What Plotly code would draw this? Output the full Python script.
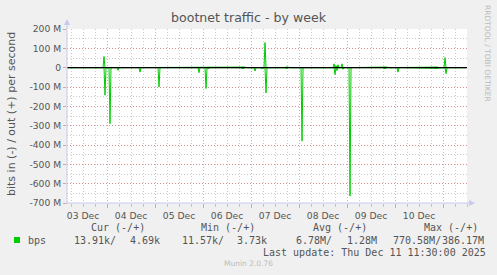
import plotly.graph_objects as go
import pandas as pd

# ---------------- data ----------------
range_start = "2025-12-03 04:00"
range_end = "2025-12-11 11:59"

# out (+) spikes, Mbit/s
out_times = ["2025-12-03 22:30", "2025-12-04 21:30", "2025-12-05 19:30",
             "2025-12-06 19:30", "2025-12-06 20:00", "2025-12-06 20:30",
             "2025-12-07 07:00", "2025-12-07 17:30", "2025-12-07 18:00",
             "2025-12-08 17:30", "2025-12-08 18:30", "2025-12-08 19:30", "2025-12-08 21:30",
             "2025-12-09 18:30", "2025-12-09 19:00", "2025-12-09 19:30",
             "2025-12-10 20:00", "2025-12-10 20:30", "2025-12-10 21:00",
             "2025-12-11 01:00"]
out_mbps = [58, 3, 3,
            3, 4, 3,
            130, 4, 3,
            20, 10, 15, 20,
            3, 4, 3,
            3, 3, 4,
            52]

# in (-) spikes, Mbit/s (magnitude)
in_times = ["2025-12-03 23:00", "2025-12-04 01:30", "2025-12-04 05:30", "2025-12-04 16:30",
            "2025-12-05 02:00", "2025-12-05 08:00", "2025-12-05 22:00",
            "2025-12-06 01:30", "2025-12-06 02:30",
            "2025-12-06 19:30", "2025-12-06 20:00", "2025-12-06 20:30",
            "2025-12-07 02:00", "2025-12-07 05:30", "2025-12-07 07:30",
            "2025-12-07 17:30", "2025-12-07 18:00",
            "2025-12-08 01:30", "2025-12-08 18:00", "2025-12-08 19:00", "2025-12-08 22:00",
            "2025-12-09 01:30", "2025-12-09 18:30", "2025-12-09 19:00", "2025-12-09 19:30",
            "2025-12-10 01:30", "2025-12-10 20:00", "2025-12-10 20:30", "2025-12-10 21:00",
            "2025-12-11 01:30", "2025-12-11 06:00"]
in_mbps = [142, 290, 14, 23,
           100, 3, 26,
           108, 5,
           4, 5, 3,
           17, 5, 131,
           4, 4,
           380, 36, 15, 8,
           664, 4, 4, 3,
           23, 3, 4, 3,
           31, 3]

y_tickvals = [200, 100, 0, -100, -200, -300, -400, -500, -600, -700]
y_ticktext = ["200 M", "100 M", "0", "-100 M", "-200 M", "-300 M",
              "-400 M", "-500 M", "-600 M", "-700 M"]

legend_headers = ["Cur (-/+)", "Min (-/+)", "Avg (-/+)", "Max (-/+)"]
legend_values = ["13.91k/", "4.69k", "11.57k/", "3.73k",
                 "6.78M/", "1.28M", "770.58M/", "386.17M"]
series_name = "bps"
last_update = "Last update: Thu Dec 11 11:30:00 2025"

# ---------------- build series on a 30-minute grid ----------------
grid = pd.date_range("2025-12-03 04:00", "2025-12-11 11:30", freq="30min")
out_s = pd.Series(0.0, index=grid)
for t, v in zip(out_times, out_mbps):
    out_s[pd.Timestamp(t)] = v * 1e6
in_s = pd.Series(0.0, index=grid)
for t, v in zip(in_times, in_mbps):
    in_s[pd.Timestamp(t)] = -v * 1e6

GREEN = "#00CC00"
TXT = "#555555"
AXIS = "#C8C8F0"
MGRID = "rgba(220,90,90,0.55)"
GRID = "rgba(160,160,160,0.55)"

fig = go.Figure()
fig.add_trace(go.Scatter(x=grid, y=in_s.values, mode="lines",
                         line=dict(color=GREEN, width=1), hoverinfo="skip"))
fig.add_trace(go.Scatter(x=grid, y=out_s.values, mode="lines",
                         line=dict(color=GREEN, width=1), hoverinfo="skip"))

L, R, T, B = 67, 30, 29, 72
W, H = 497, 275
PW, PH = W - L - R, H - T - B

def px(x):
    return (x - L) / PW

def py(y):
    return (H - B - y) / PH

fig.update_layout(
    width=W, height=H,
    margin=dict(l=L, r=R, t=T, b=B, pad=0),
    paper_bgcolor="#F0F0F0", plot_bgcolor="#FFFFFF",
    showlegend=False,
    font=dict(family="DejaVu Sans", color=TXT, size=9.2),
)
fig.update_xaxes(
    type="date", range=[range_start, range_end],
    tick0="2025-12-03", dtick=86400000, ticklabelmode="period",
    tickformat="%d %b",
    showgrid=True, gridcolor=MGRID, griddash="1px,2px", gridwidth=1,
    ticks="outside", ticklen=4, tickcolor=MGRID,
    minor=dict(dtick=6 * 3600000, showgrid=True, gridcolor=GRID,
               griddash="1px,2px", ticks="outside", ticklen=3, tickcolor=GRID),
    showline=False, zeroline=False,
    tickfont=dict(size=9.2, color=TXT),
)
fig.update_yaxes(
    range=[-700e6, 200e6],
    tickvals=[v * 1e6 for v in y_tickvals], ticktext=y_ticktext,
    showgrid=True, gridcolor=MGRID, griddash="1px,2px", gridwidth=1,
    ticks="outside", ticklen=3, tickcolor=MGRID,
    minor=dict(dtick=50e6, showgrid=True, gridcolor=GRID, griddash="1px,2px"),
    showline=False, zeroline=False,
    tickfont=dict(size=9.2, color=TXT),
)

# zero line (black)
fig.add_shape(type="line", xref="paper", yref="y", x0=0, x1=1, y0=0, y1=0,
              line=dict(color="#000000", width=1.3), layer="above")
# axis lines and arrows
fig.add_shape(type="line", xref="paper", yref="paper", x0=0, x1=0,
              y0=py(204), y1=py(22), line=dict(color=AXIS, width=1))
fig.add_shape(type="line", xref="paper", yref="paper", x0=px(66), x1=px(470),
              y0=0, y1=0, line=dict(color=AXIS, width=1))
fig.add_shape(type="path", xref="paper", yref="paper",
              path=f"M {px(64)} {py(25)} L {px(70)} {py(25)} L {px(67)} {py(19)} Z",
              fillcolor=AXIS, line=dict(width=0))
fig.add_shape(type="path", xref="paper", yref="paper",
              path=f"M {px(469)} {py(200)} L {px(469)} {py(206)} L {px(475)} {py(203)} Z",
              fillcolor=AXIS, line=dict(width=0))

def ann(x, y, text, size, family="DejaVu Sans", color=TXT, anchor="left", angle=0):
    fig.add_annotation(x=px(x), y=py(y), xref="paper", yref="paper", text=text,
                       showarrow=False, xanchor=anchor, yanchor="middle",
                       textangle=angle, borderpad=0,
                       font=dict(family=family, size=size, color=color))

# title
ann(248.5, 17, "bootnet traffic - by week", 12.6, anchor="center")
# y axis title
ann(11, 114, "bits in (-) / out (+) per second", 11, anchor="center", angle=-90)
# right side credit
ann(488, 53, "RRDTOOL / TOBI OETIKER", 7.5, color="#BBBBBB", anchor="center", angle=90)

MONO = "DejaVu Sans Mono"
for x, t in zip([90, 200, 311.7, 422.7], legend_headers):
    ann(x, 227.5, t, 10, family=MONO)
fig.add_shape(type="rect", xref="paper", yref="paper",
              x0=px(14), x1=px(20), y0=py(243), y1=py(237),
              fillcolor=GREEN, line=dict(width=0))
ann(27, 240, series_name, 10, family=MONO)
for x, t in zip([72.7, 129, 181, 236, 295, 345.7, 391.7, 440.5], legend_values):
    ann(x, 240, t, 10, family=MONO)
ann(261.7, 252, last_update, 10, family=MONO)
ann(248, 263.5, "Munin 2.0.76", 7.5, color="#BBBBBB", anchor="center")

fig.write_html("out.html")
